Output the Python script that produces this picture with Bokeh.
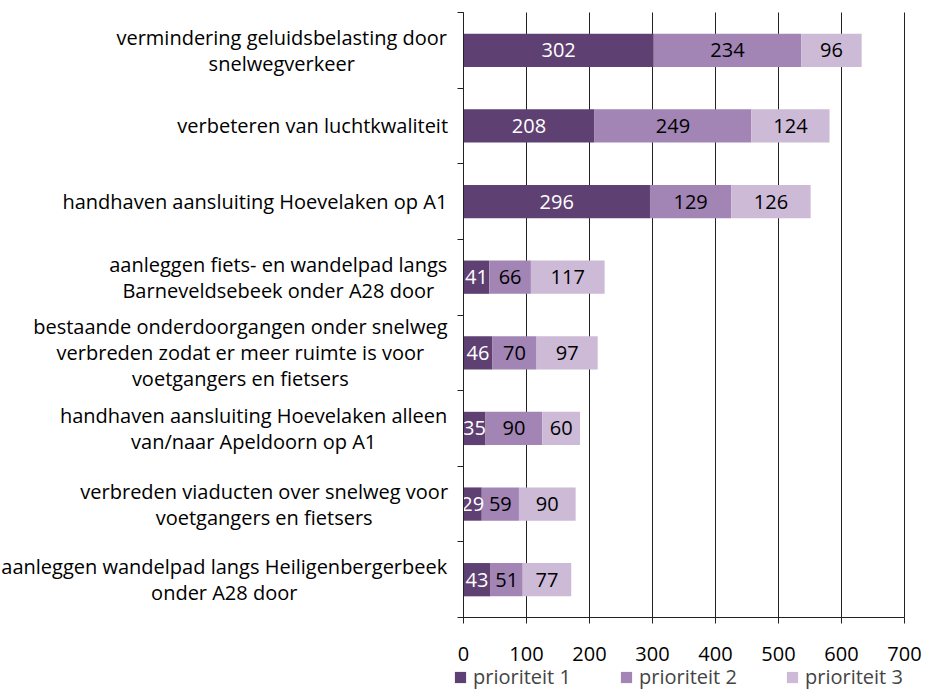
from bokeh.plotting import figure
from bokeh.models import ColumnDataSource, Range1d, FixedTicker, Legend, LegendItem
from bokeh.core.properties import value
from bokeh.embed import file_html
from bokeh.resources import INLINE

# ---- data ----
categories = [
    "vermindering geluidsbelasting door\nsnelwegverkeer",
    "verbeteren van luchtkwaliteit",
    "handhaven aansluiting Hoevelaken op A1",
    "aanleggen fiets- en wandelpad langs\nBarneveldsebeek onder A28 door",
    "bestaande onderdoorgangen onder snelweg\nverbreden zodat er meer ruimte is voor\nvoetgangers en fietsers",
    "handhaven aansluiting Hoevelaken alleen\nvan/naar Apeldoorn op A1",
    "verbreden viaducten over snelweg voor\nvoetgangers en fietsers",
    "aanleggen wandelpad langs Heiligenbergerbeek\nonder A28 door",
]
prioriteit_1 = [302, 208, 296, 41, 46, 35, 29, 43]
prioriteit_2 = [234, 249, 129, 66, 70, 90, 59, 51]
prioriteit_3 = [96, 124, 126, 117, 97, 60, 90, 77]
series_names = ["prioriteit 1", "prioriteit 2", "prioriteit 3"]
x_ticks = [0, 100, 200, 300, 400, 500, 600, 700]

# ---- style / layout ----
colors = ["#5f4073", "#a285b5", "#ccbad7"]
label_colors = ["white", "black", "black"]
LINE = "#222222"
FONT = "Open Sans"
FS = 20
FS_STR = f"{FS}px"
W, H = 925, 691
AX_LEFT, AX_RIGHT = 463, 904      # canvas px of x=0 and x=700
AX_TOP, AX_BOTTOM = 12, 617       # canvas px of top of first band and of the x axis

# approximate Open Sans advance widths (em), used to centre multi-line category labels
_W = dict(a=.556, b=.613, c=.476, d=.613, e=.561, f=.339, g=.548, h=.614, i=.258, j=.258,
          k=.519, l=.258, m=.930, n=.614, o=.604, p=.613, q=.613, r=.408, s=.477, t=.353,
          u=.614, v=.489, w=.742, x=.5, y=.49, z=.446)
_W.update({" ": .26, "A": .633, "B": .647, "H": .738, "1": .572, "2": .572, "8": .572,
           "-": .322, "/": .371})


def text_width(s):
    return sum(_W.get(ch, .56) for ch in s) * FS


n = len(categories)
y_pos = [n - i - 0.5 for i in range(n)]
boundaries = list(range(n + 1))

xmax = x_ticks[-1]
px_x = (AX_RIGHT - AX_LEFT) / xmax          # px per x unit
px_y = (AX_BOTTOM - AX_TOP) / n             # px per band
x_range = Range1d(-AX_LEFT / px_x, xmax + (W - AX_RIGHT) / px_x)
y_range = Range1d(-(H - AX_BOTTOM) / px_y, n + AX_TOP / px_y)

p = figure(width=W, height=H, x_range=x_range, y_range=y_range,
           output_backend="svg", toolbar_location=None,
           min_border_left=0, min_border_right=0, min_border_top=0, min_border_bottom=0)
p.outline_line_color = None
p.background_fill_color = "white"
p.xgrid.grid_line_color = None
p.ygrid.grid_line_color = None

# vertical grid lines over the bands only
p.segment(x0=x_ticks, y0=[0] * len(x_ticks), x1=x_ticks, y1=[n] * len(x_ticks),
          line_color=LINE, line_width=1)

source = ColumnDataSource(dict(y=y_pos, p1=prioriteit_1, p2=prioriteit_2, p3=prioriteit_3))
renderers = p.hbar_stack(["p1", "p2", "p3"], y="y", height=0.44, color=colors,
                         line_color=None, source=source)

# segment labels
lx, ly, lt, lc = [], [], [], []
for i in range(n):
    vals = [prioriteit_1[i], prioriteit_2[i], prioriteit_3[i]]
    start = 0
    for k, v in enumerate(vals):
        lx.append(start + v / 2)
        ly.append(y_pos[i])
        lt.append(str(v))
        lc.append(label_colors[k])
        start += v
lab_src = ColumnDataSource(dict(x=lx, y=ly, text=lt, color=lc))
p.text(x="x", y="y", text="text", text_color="color", source=lab_src,
       text_align="center", text_baseline="middle",
       text_font=value(FONT), text_font_size=FS_STR)

# category labels: blocks right-aligned 16px left of the axis, lines centred
cx = [(-16 - max(text_width(l) for l in c.split("\n")) / 2) / px_x for c in categories]
cat_src = ColumnDataSource(dict(x=cx, y=y_pos, text=categories))
p.text(x="x", y="y", text="text", source=cat_src, text_align="center",
       text_baseline="middle", text_font=value(FONT), text_font_size=FS_STR,
       text_color="black", text_line_height=0.96)

# x axis fixed at y=0
xa = p.xaxis[0]
xa.fixed_location = 0
xa.bounds = (0, xmax)
xa.ticker = FixedTicker(ticks=x_ticks)
xa.axis_line_color = LINE
xa.major_tick_line_color = LINE
xa.major_tick_in = 0
xa.major_tick_out = 6
xa.minor_tick_line_color = None
xa.major_label_standoff = 23
xa.major_label_text_font = FONT
xa.major_label_text_font_size = FS_STR
xa.major_label_text_color = "black"

# y axis fixed at x=0, ticks between the categories
ya = p.yaxis[0]
ya.fixed_location = 0
ya.bounds = (0, n)
ya.ticker = FixedTicker(ticks=[], minor_ticks=boundaries)
ya.axis_line_color = LINE
ya.major_tick_line_color = None
ya.minor_tick_line_color = LINE
ya.minor_tick_in = 0
ya.minor_tick_out = 6
ya.major_label_text_font_size = "0px"

legend = Legend(items=[LegendItem(label=s, renderers=[r]) for s, r in zip(series_names, renderers)],
                orientation="horizontal", location=(453, 1),
                glyph_width=14, glyph_height=14, label_standoff=6, label_width=128,
                spacing=18, padding=0, margin=0, border_line_color=None,
                background_fill_alpha=0,
                label_text_font=FONT, label_text_font_size=FS_STR)
p.add_layout(legend)

open("out.html", "w").write(file_html(p, INLINE))
